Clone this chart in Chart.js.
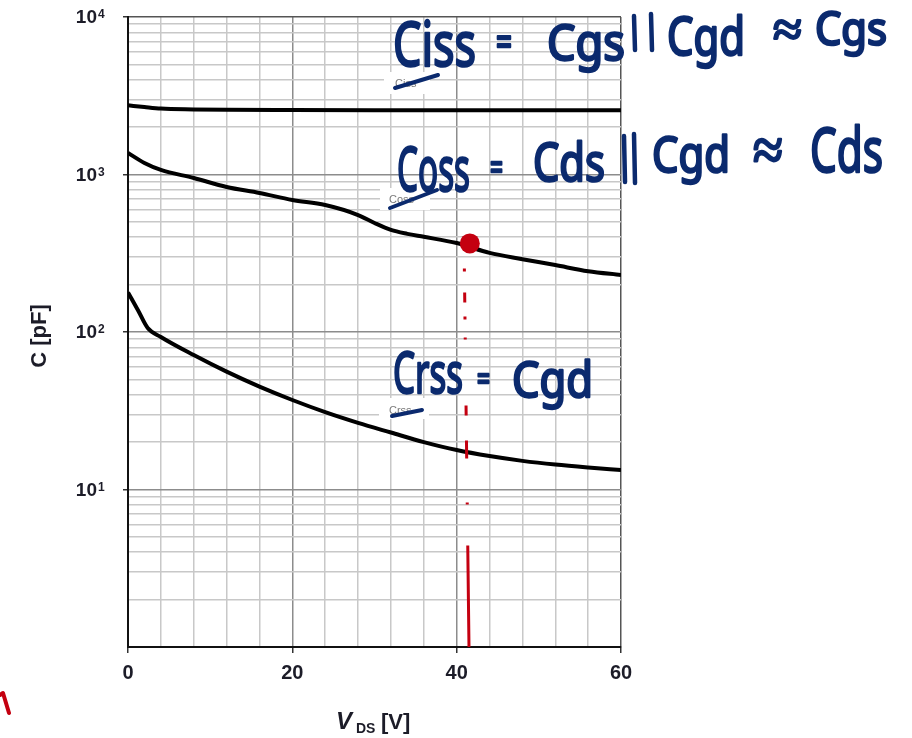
<!DOCTYPE html>
<html>
<head>
<meta charset="utf-8">
<script src="https://cdn.jsdelivr.net/npm/chart.js@4"></script>
<style>
  html, body { margin: 0; padding: 0; background: #fff; }
  #wrap { width: 912px; height: 738px; position: relative; }
</style>
</head>
<body>
<div id="wrap"><canvas id="chart"></canvas></div>
<script>
// data (C in pF vs VDS in V)
const vdsCiss = [0, 2, 4, 8, 12, 20, 30, 40, 50, 60];
const ciss = [2750, 2680, 2620, 2590, 2575, 2565, 2560, 2560, 2560, 2560];

const vdsCoss = [0, 2, 4, 8, 12, 16, 20, 24, 28, 30, 32, 34, 36, 40, 44, 48, 52, 56, 60];
const coss = [1370, 1183, 1069, 950, 833, 763, 689, 640, 553, 492, 445, 420, 402, 367, 318, 290, 266, 243, 230];

const vdsCrss = [0, 1.2, 2.4, 4, 8, 12, 16, 20, 24, 28, 32, 36, 40, 44, 48, 52, 56, 60];
const crss = [178, 138, 106, 93, 71.4, 56, 45, 37, 31, 26.5, 23, 20, 17.8, 16.3, 15.2, 14.4, 13.8, 13.3];

// red hand-drawn marker
const markV = [41.6];
const markC = [365];
const markLineV = [40.9, 41.5];
const markLineC = [365, 1];

// tick labels
const xLabels = [0, 20, 40, 60];
const yDecades = [10, 100, 1000, 10000];
const yExps = ['1', '2', '3', '4'];
const yMult = [1, 2, 3, 4, 5, 6, 7, 8, 9];

// handwritten notes: text pieces
const noteText = ['Ciss', '=', 'Cgs', 'Cgd', '≈', 'Cgs',
                  'Coss', '=', 'Cds', 'Cgd', '≈', 'Cds',
                  'Crss', '=', 'Cgd'];
// x, baseline, width, font size
const noteBox = [
  [393, 66, 83, 62], [496, 56, 16, 40], [547, 60, 78, 50],
  [667, 55, 78, 52], [773, 46, 29, 50], [815, 45, 72, 46],
  [397, 191, 73, 62], [490, 180, 13, 36], [533, 181, 72, 52],
  [652, 172, 78, 50], [753, 170, 30, 60], [810, 172, 73, 62],
  [393, 393, 70, 56], [477, 390, 13, 32], [512, 397, 81, 50]
];
// the "||" strokes: x, top, bottom
const noteBars = [[634, 16, 50], [651, 14, 50], [624, 136, 182], [634, 134, 183]];

const pts = (xs, ys) => xs.map((x, i) => ({ x, y: ys[i] }));
const INK = '#1c1c28';
const PEN = '#0b2a6e';

function fitText(ctx, text, x, y, w, size) {
  ctx.font = `400 ${size}px "Noto Sans"`;
  const m = ctx.measureText(text).width;
  ctx.save();
  ctx.translate(x, y);
  ctx.scale(w / m, 1);
  ctx.fillText(text, 0, 0);
  ctx.strokeText(text, 0, 0);
  ctx.restore();
}

const extras = {
  id: 'extras',
  afterDraw(c) {
    const ctx = c.ctx;
    const ys = c.scales.y;
    ctx.save();
    // y tick labels with superscripts
    ctx.fillStyle = INK;
    yDecades.forEach((v, i) => {
      const y = ys.getPixelForValue(v);
      ctx.font = 'bold 19px "Liberation Sans"';
      ctx.textAlign = 'right';
      ctx.textBaseline = 'middle';
      ctx.fillText('10', 97, y + 1);
      ctx.font = 'bold 12px "Liberation Sans"';
      ctx.textAlign = 'left';
      ctx.textBaseline = 'alphabetic';
      ctx.fillText(yExps[i], 98, y + 1);
    });
    // y title
    ctx.save();
    ctx.translate(46, 336);
    ctx.rotate(-Math.PI / 2);
    ctx.font = 'bold 22px "Liberation Sans"';
    ctx.textAlign = 'center';
    ctx.textBaseline = 'alphabetic';
    ctx.fillText('C [pF]', 0, 0);
    ctx.restore();
    // x title  VDS [V]
    ctx.textAlign = 'left';
    ctx.font = 'italic bold 24px "Liberation Sans"';
    ctx.fillText('V', 336, 729);
    ctx.font = 'bold 14px "Liberation Sans"';
    ctx.fillText('DS', 356, 733);
    ctx.font = 'bold 22px "Liberation Sans"';
    ctx.fillText('[V]', 381, 729);

    // original small curve labels on white boxes
    ctx.fillStyle = '#fff';
    ctx.fillRect(384, 72, 46, 22);
    ctx.fillRect(380, 188, 50, 22);
    ctx.fillRect(379, 398, 50, 21);
    ctx.fillStyle = '#7a7a7a';
    ctx.font = '11px "Liberation Sans"';
    ctx.fillText('Ciss', 395, 87);
    ctx.fillText('Coss', 389, 203);
    ctx.fillText('Crss', 389, 414);

    // handwritten notes
    ctx.fillStyle = PEN;
    ctx.strokeStyle = PEN;
    ctx.lineWidth = 2.5;
    ctx.lineJoin = 'round';
    ctx.lineCap = 'round';
    noteText.forEach((t, i) => {
      const b = noteBox[i];
      fitText(ctx, t, b[0], b[1], b[2], b[3]);
    });
    ctx.lineWidth = 4.5;
    noteBars.forEach(b => {
      ctx.beginPath();
      ctx.moveTo(b[0], b[1]);
      ctx.lineTo(b[0] + 1, b[2]);
      ctx.stroke();
    });
    ctx.lineWidth = 4;
    [[395, 88, 438, 75], [390, 208, 437, 190], [392, 416, 422, 410]].forEach(s => {
      ctx.beginPath();
      ctx.moveTo(s[0], s[1]);
      ctx.lineTo(s[2], s[3]);
      ctx.stroke();
    });

    // red arrow tip at bottom left
    ctx.strokeStyle = '#c40010';
    ctx.lineWidth = 4;
    ctx.beginPath();
    ctx.moveTo(0, 695);
    ctx.lineTo(3, 693);
    ctx.lineTo(9, 713);
    ctx.stroke();
    ctx.restore();
  }
};

const curve = (data) => ({
  data, borderColor: '#000', borderWidth: 4, pointRadius: 0,
  cubicInterpolationMode: 'monotone', fill: false
});

new Chart(document.getElementById('chart'), {
  type: 'line',
  data: {
    datasets: [
      { data: pts(markV, markC), showLine: false, pointRadius: 10, pointBackgroundColor: '#c40010', pointBorderWidth: 0 },
      { data: pts(markLineV, markLineC), borderColor: '#c40010', borderWidth: 3, pointRadius: 0,
        borderCapStyle: 'butt',
        borderDash: [0, 25, 3, 21, 10, 14, 3, 18, 2, 66, 10, 25, 18, 44, 2, 41, 120] },
      curve(pts(vdsCiss, ciss)),
      curve(pts(vdsCoss, coss)),
      curve(pts(vdsCrss, crss))
    ]
  },
  options: {
    responsive: true,
    maintainAspectRatio: false,
    animation: false,
    layout: { padding: { top: 17, right: 291, left: 0, bottom: 0 } },
    plugins: { legend: { display: false }, tooltip: { enabled: false } },
    scales: {
      x: {
        type: 'linear', min: 0, max: 60,
        afterFit(s) { s.height = 91; },
        ticks: {
          stepSize: 4, autoSkip: false, maxRotation: 0, padding: 8,
          callback: v => xLabels.includes(v) ? String(v) : '',
          font: { family: 'Liberation Sans', weight: 'bold', size: 20 },
          color: INK
        },
        grid: {
          lineWidth: 1.5,
          color: ctx => ctx.tick.value === 60 ? '#555' : (ctx.tick.value % 20 === 0 ? '#8c8c8c' : '#c8c8c8'),
          tickLength: 6,
          tickWidth: 1.5,
          tickColor: ctx => ctx.tick.value % 20 === 0 ? '#333' : 'rgba(0,0,0,0)'
        },
        border: { color: '#111', width: 2 }
      },
      y: {
        type: 'logarithmic', min: 1, max: 10000,
        afterFit(s) { s.width = 128; },
        afterBuildTicks(s) {
          const t = [];
          yDecades.forEach(d => yMult.forEach(m => t.push({ value: m * d / 10 })));
          t.push({ value: 10000 });
          s.ticks = t;
        },
        ticks: { autoSkip: false, callback: () => '', font: { size: 19 } },
        grid: {
          lineWidth: 1.5,
          color: ctx => {
            const v = ctx.tick.value;
            if (v === 10000) return '#555';
            return yDecades.includes(v) ? '#8c8c8c' : '#c8c8c8';
          },
          tickLength: 5,
          tickWidth: 1.5,
          tickColor: ctx => yDecades.includes(ctx.tick.value) ? '#333' : 'rgba(0,0,0,0)'
        },
        border: { color: '#111', width: 2 }
      }
    }
  },
  plugins: [extras]
});
</script>
</body>
</html>
